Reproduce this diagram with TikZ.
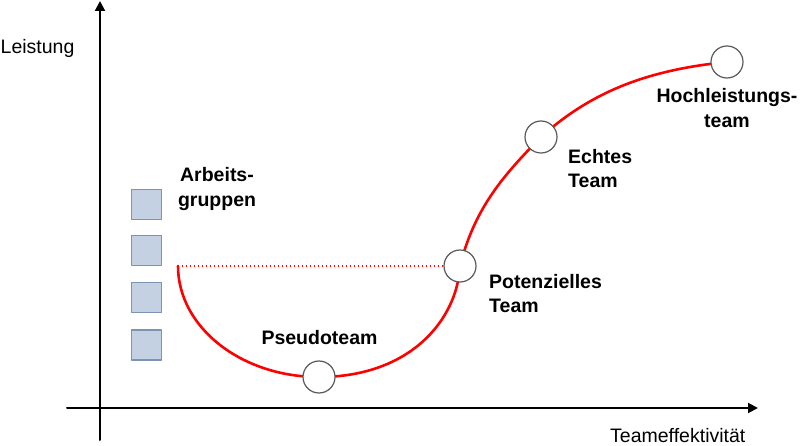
\documentclass[tikz,border=0pt]{standalone}
\usepackage{fontspec}
\setmainfont{Liberation Sans}
\usepackage{tikz}
\definecolor{curvered}{rgb}{1,0,0}
\definecolor{boxfill}{RGB}{195,209,227}
\definecolor{boxline}{RGB}{124,147,179}
\definecolor{ringgray}{RGB}{90,90,90}
\usetikzlibrary{arrows.meta}
\tikzset{
    axis/.style = {line width=2pt, -{Triangle[length=10pt,width=10pt]}},
    groupbox/.style = {draw=boxline, fill=boxfill, line width=1.2pt, minimum size=30pt, inner sep=0pt},
    stage/.style = {circle, draw=ringgray, fill=white, line width=1.2pt, minimum size=32pt, inner sep=0pt},
    lbl/.style = {inner sep=0pt, font=\fontsize{19.5}{24.5}\selectfont\bfseries},
    axlbl/.style = {inner sep=0pt, font=\fontsize{19.5}{24.5}\selectfont}
}
\begin{document}
\begin{tikzpicture}[line cap=round,line join=round,x=1pt,y=-1pt]
\useasboundingbox (0,0) rectangle (800,446);
\draw [axis] (100,440) -- (100,1);
\draw [axis] (67,408) -- (758,408);
\node [axlbl, anchor=west] (leistung) at (0.5,48.4) {Leistung};
\node [axlbl, anchor=west] (effekt) at (610,435.5) {Teameffektivität};
\node [groupbox] (g1) at (146.5,204.5) {};
\node [groupbox] (g2) at (146.5,250.5) {};
\node [groupbox] (g3) at (146.5,297.5) {};
\node [groupbox] (g4) at (146.5,345) {};
\coordinate (start) at (178,266);
\coordinate (pseudo) at (319,377);
\coordinate (potenz) at (460,266);
\coordinate (echt) at (541,137);
\coordinate (hoch) at (727,62);
\draw [curvered, line width=1.3pt, dash pattern=on 1.3pt off 2.7pt, line cap=butt] (start) -- (potenz);
\draw [curvered, line width=2.6pt] (start) .. controls +(0,61) and +(-78,0) .. (pseudo)
      .. controls +(91,0) and +(-3,54) .. (potenz)
      .. controls +(15,-60) and +(-35,36) .. (echt)
      .. controls +(50,-45) and +(-80,8) .. (hoch);
\node [stage] (s1) at (pseudo) {};
\node [stage] (s2) at (potenz) {};
\node [stage] (s3) at (echt) {};
\node [stage] (s4) at (hoch) {};
\node [lbl, align=center] (arbeit) at (217,189) {Arbeits-\\gruppen};
\node [lbl] (pseudolbl) at (319.5,338) {Pseudoteam};
\node [lbl, align=left, anchor=west] (potenzlbl) at (489,293.5) {Potenzielles\\Team};
\node [lbl, align=left, anchor=west] (echtlbl) at (568,168.4) {Echtes\\Team};
\node [lbl, align=center] (hochlbl) at (727,108) {Hochleistungs-\\team};
\end{tikzpicture}
\end{document}
